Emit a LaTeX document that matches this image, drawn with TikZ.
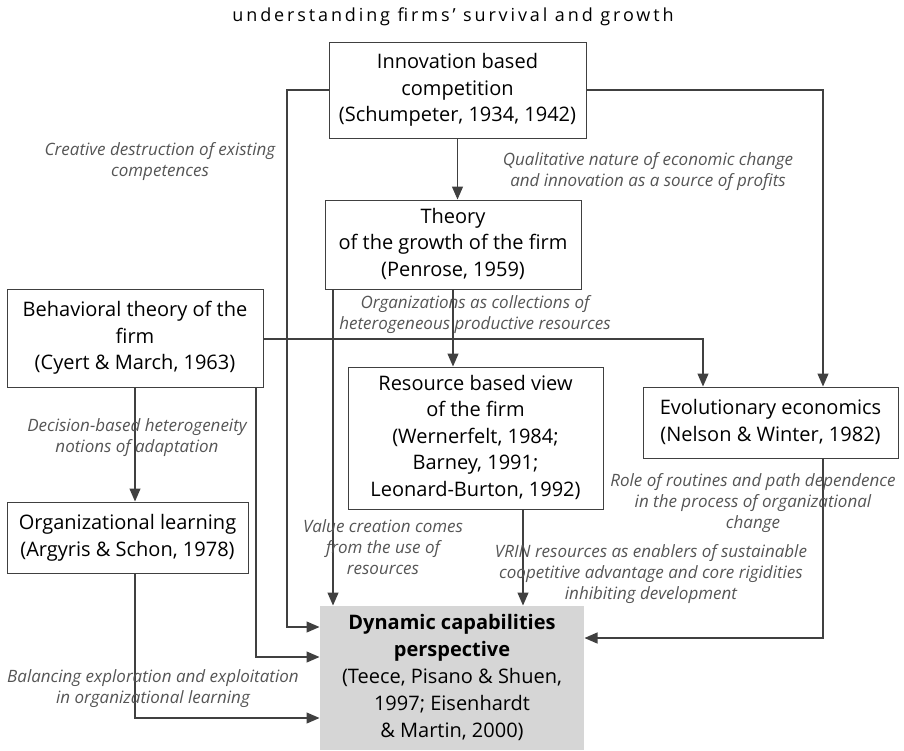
\documentclass[tikz,border=0pt]{standalone}
\usepackage{fontspec}
\setmainfont{Open Sans}
\usetikzlibrary{arrows.meta,calc}
\definecolor{linegray}{HTML}{404040}
\definecolor{notegray}{HTML}{555555}
\definecolor{dynfill}{HTML}{D6D6D6}
% stacked, strut-centred lines for box texts and notes
\newcommand{\stackedlines}[1]{\begin{tabular}{@{}c@{}}#1\end{tabular}}
\begin{document}
\begin{tikzpicture}[x=1pt,y=-1pt,
  box/.style={draw=linegray, line width=1pt, inner sep=0pt,
    font=\fontsize{20}{26.5}\selectfont, text=black},
  note/.style={inner sep=0pt, text=notegray,
    font=\fontsize{17}{21}\selectfont\itshape},
  link/.style={draw=linegray, line width=1.2pt},
  arr/.style={link, -{Triangle[length=13pt,width=11pt]}}]
\useasboundingbox (0,0) rectangle (904,750);

% title
\node[inner sep=0pt, font=\fontsize{18}{22}\selectfont\addfontfeature{LetterSpace=16}]
  (title) at (453,17) {understanding firms’ survival and growth};

% boxes
\node[box, minimum width=257pt, minimum height=96pt] (inno) at (457.5,90)
  {\stackedlines{Innovation based\\competition\\(Schumpeter, 1934, 1942)}};
\node[box, minimum width=256pt, minimum height=89pt] (theory) at (453,244.5)
  {\stackedlines{Theory\\of the growth of the firm\\(Penrose, 1959)}};
\node[box, minimum width=256pt, minimum height=98pt] (behav) at (135,338)
  {\stackedlines{Behavioral theory of the\\firm\\(Cyert \& March, 1963)}};
\node[box, minimum width=255pt, minimum height=142pt] (rbv) at (475.5,438)
  {\stackedlines{Resource based view\\of the firm\\(Wernerfelt, 1984;\\Barney, 1991;\\Leonard-Burton, 1992)}};
\node[box, minimum width=255pt, minimum height=71pt] (evo) at (770.5,422.5)
  {\stackedlines{Evolutionary economics\\(Nelson \& Winter, 1982)}};
\node[box, minimum width=241pt, minimum height=71pt] (org) at (127.5,537.5)
  {\stackedlines{Organizational learning\\(Argyris \& Schon, 1978)}};
\node[box, draw=none, fill=dynfill, minimum width=264pt, minimum height=144pt,
  font=\fontsize{20}{27}\selectfont] (dyn) at (452,678)
  {\stackedlines{\textbf{Dynamic capabilities}\\\textbf{perspective}\\(Teece, Pisano \& Shuen,\\1997; Eisenhardt\\\& Martin, 2000)}};

% connector bends
\coordinate (innoL) at (287,627);
\coordinate (innoR) at (823,90);
\coordinate (behR) at (703,339);
\coordinate (behD) at (256,657);
\coordinate (orgD) at (135,718);
\coordinate (penD) at (333,289);
\coordinate (rbvD) at (523,509);
\coordinate (evoD) at (823,638);

% connectors
\draw[arr] (inno.west) -| (innoL) -- (innoL -| dyn.west);
\draw[arr] (inno.east) -| (innoR |- evo.north);
\draw[arr] (inno.south) -- (inno.south |- theory.north);
\draw[arr] (theory.south) -- (theory.south |- rbv.north);
\draw[arr] (penD |- theory.south) -- (penD |- dyn.north);
\draw[arr] (behav.east |- behR) -| (behR |- evo.north);
\draw[arr] (behav.south) -- (behav.south |- org.north);
\draw[arr] (behD |- behav.south) -- (behD) -- (behD -| dyn.west);
\draw[arr] (orgD |- org.south) -- (orgD) -- (orgD -| dyn.west);
\draw[arr] (rbvD |- rbv.south) -- (rbvD |- dyn.north);
\draw[arr] (evoD |- evo.south) -- (evoD) -- (evoD -| dyn.east);

% annotations
\node[note] (n1) at (160,161.5) {\stackedlines{Creative destruction of existing\\competences}};
\node[note] (n2) at (648,172) {\stackedlines{Qualitative nature of economic change\\and innovation as a source of profits}};
\node[note] (n3) at (475,315) {\stackedlines{Organizations as collections of\\heterogeneous productive resources}};
\node[note] (n4) at (137,437.5) {\stackedlines{Decision-based heterogeneity\\notions of adaptation}};
\node[note] (n5) at (383,549.5) {\stackedlines{Value creation comes\\from the use of\\resources}};
\node[note] (n6) at (753,503) {\stackedlines{Role of routines and path dependence\\in the process of organizational\\change}};
\node[note] (n7) at (651,574) {\stackedlines{VRIN resources as enablers of sustainable\\coopetitive advantage and core rigidities\\inhibiting development}};
\node[note] (n8) at (153,688.5) {\stackedlines{Balancing exploration and exploitation\\in organizational learning}};
\end{tikzpicture}
\end{document}
